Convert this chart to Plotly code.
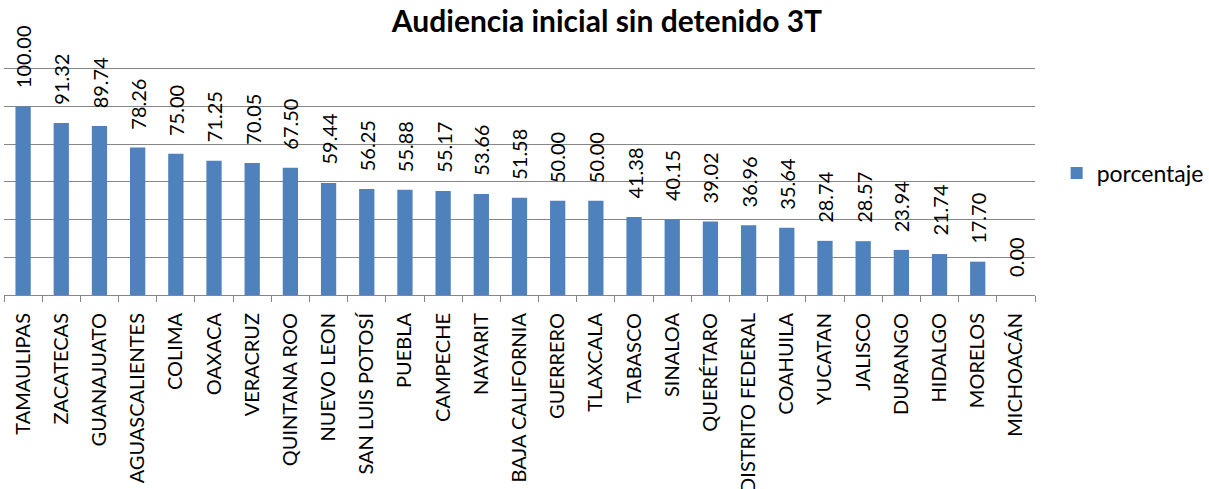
import plotly.graph_objects as go

estados = ["TAMAULIPAS", "ZACATECAS", "GUANAJUATO", "AGUASCALIENTES", "COLIMA", "OAXACA",
           "VERACRUZ", "QUINTANA ROO", "NUEVO LEON", "SAN LUIS POTOSÍ", "PUEBLA", "CAMPECHE",
           "NAYARIT", "BAJA CALIFORNIA", "GUERRERO", "TLAXCALA", "TABASCO", "SINALOA",
           "QUERÉTARO", "DISTRITO FEDERAL", "COAHUILA", "YUCATAN", "JALISCO", "DURANGO",
           "HIDALGO", "MORELOS", "MICHOACÁN"]
porcentaje = [100.00, 91.32, 89.74, 78.26, 75.00, 71.25, 70.05, 67.50, 59.44, 56.25, 55.88,
              55.17, 53.66, 51.58, 50.00, 50.00, 41.38, 40.15, 39.02, 36.96, 35.64, 28.74,
              28.57, 23.94, 21.74, 17.70, 0.00]

FONT = "Lato"
W, H = 1209, 489
L, R, T, B = 4, 174, 67, 194

fig = go.Figure()
fig.add_trace(go.Bar(
    x=estados, y=porcentaje, name="porcentaje",
    marker=dict(color="#4F81BD", line=dict(width=0)),
    hoverinfo="x+y",
))

for e, v in zip(estados, porcentaje):
    fig.add_annotation(
        x=e, y=v, text=f"{v:.2f}", textangle=-90, showarrow=False,
        xref="x", yref="y", yanchor="bottom", xanchor="center", yshift=16,
        font=dict(family=FONT, size=20, color="black"),
    )

fig.update_layout(
    width=W, height=H,
    margin=dict(l=L, r=R, t=T, b=B, autoexpand=False),
    paper_bgcolor="white", plot_bgcolor="white",
    bargap=0.6,
    title=dict(text="<b>Audiencia inicial sin detenido 3T</b>", x=607 / W, xanchor="center",
               y=1 - 21 / H, yanchor="middle", xref="container", yref="container",
               font=dict(family=FONT, size=30, color="black")),
    showlegend=True,
    legend=dict(x=1.021, y=0.535, xanchor="left", yanchor="middle",
                font=dict(family=FONT, size=23, color="black"),
                itemwidth=30, bgcolor="rgba(0,0,0,0)"),
    font=dict(family=FONT, color="black"),
)

fig.update_xaxes(
    type="category", tickangle=-90, tickson="boundaries", ticks="outside", ticklen=6,
    tickcolor="#868686", showline=True, linecolor="#868686", linewidth=1,
    tickfont=dict(family=FONT, size=20, color="black"), showgrid=False,
    automargin=False, ticklabelstandoff=9,
)
fig.update_yaxes(
    range=[0, 121], dtick=20, showgrid=True, gridcolor="#868686", gridwidth=1,
    showticklabels=False, zeroline=False, showline=False, ticks="", automargin=False,
)

fig.write_html("out.html", config={"displayModeBar": False},
               post_script="document.body.style.margin='0';document.body.style.overflow='hidden';")
